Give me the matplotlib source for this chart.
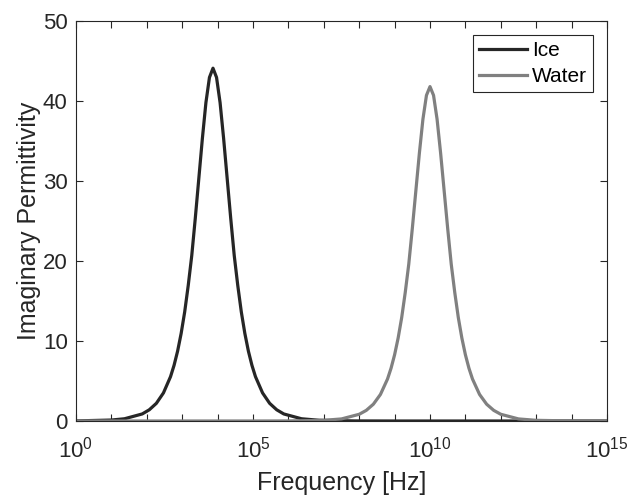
import matplotlib
matplotlib.use("Agg")
import matplotlib.pyplot as plt
import numpy as np
from matplotlib.ticker import FixedLocator, FuncFormatter

plt.rcParams["font.family"] = ["Liberation Sans", "DejaVu Sans"]
plt.rcParams["mathtext.fontset"] = "custom"
plt.rcParams["mathtext.rm"] = "Liberation Sans"

# log10 of frequency [Hz] and imaginary permittivity
ice_logf = [0.0, 1.0, 1.37, 1.87, 2.07, 2.27, 2.47, 2.67, 2.77, 2.87, 2.97,
            3.07, 3.17, 3.27, 3.37, 3.47, 3.57, 3.67, 3.77, 3.87,
            3.97, 4.07, 4.17, 4.27, 4.37, 4.47, 4.57, 4.67, 4.77, 4.87,
            4.97, 5.07, 5.27, 5.47, 5.67, 5.87, 6.37, 6.87, 7.87, 9.0, 15.0]
ice_eps = [0.012, 0.12, 0.28, 0.88, 1.40, 2.21, 3.51, 5.54, 6.96, 8.73, 10.94,
           13.63, 16.93, 20.68, 25.36, 30.34, 35.32, 39.80, 42.95, 44.1,
           42.95, 39.80, 35.32, 30.34, 25.36, 20.68, 16.93, 13.63, 10.94, 8.73,
           6.96, 5.54, 3.51, 2.21, 1.40, 0.88, 0.28, 0.09, 0.01, 0.0, 0.0]

water_logf = [0.0, 5.0, 6.0, 7.0, 7.5, 8.0, 8.2, 8.4, 8.6, 8.8, 8.9,
              9.0, 9.1, 9.2, 9.3, 9.4, 9.5, 9.6, 9.7, 9.8, 9.9, 10.0,
              10.1, 10.2, 10.3, 10.4, 10.5, 10.6, 10.7, 10.8, 10.9, 11.0,
              11.1, 11.2, 11.4, 11.6, 11.8, 12.0, 12.5, 13.0, 14.0, 15.0]
water_eps = [0.0, 0.0008, 0.008, 0.084, 0.26, 0.84, 1.33, 2.10, 3.32, 5.25, 6.60,
             8.28, 10.37, 12.92, 16.05, 19.60, 24.04, 28.76, 33.48, 37.72, 40.71, 41.8,
             40.71, 37.72, 33.48, 28.76, 24.04, 19.60, 16.05, 12.92, 10.37, 8.28,
             6.60, 5.25, 3.32, 2.10, 1.33, 0.84, 0.26, 0.084, 0.008, 0.0]

ice_f = 10.0 ** np.array(ice_logf)
water_f = 10.0 ** np.array(water_logf)

fig = plt.figure(figsize=(6.32, 4.97), dpi=100)
ax = fig.add_axes([76 / 632, 1 - 421 / 497, 531 / 632, 400 / 497])

ax.semilogx(ice_f, ice_eps, color="#262626", lw=2.3, label="Ice")
ax.semilogx(water_f, water_eps, color="#808080", lw=2.3, label="Water")

ax.set_xlim(1, 1e15)
ax.set_ylim(0, 50)
ax.xaxis.set_major_locator(FixedLocator([10.0 ** k for k in range(16)]))
ax.xaxis.set_minor_locator(FixedLocator([]))
ax.xaxis.set_major_formatter(FuncFormatter(
    lambda v, p: r"$\mathregular{10^{%d}}$" % round(np.log10(v)) if round(np.log10(v)) % 5 == 0 else ""))
ax.set_yticks([0, 10, 20, 30, 40, 50])

ax.tick_params(direction="in", top=True, right=True, length=5, width=0.8,
               labelsize=16, colors="#262626")
ax.tick_params(axis="x", pad=11)
ax.tick_params(axis="y", pad=6)
for s in ax.spines.values():
    s.set_color("#262626")
    s.set_linewidth(0.8)

ax.set_xlabel("Frequency [Hz]", fontsize=18, color="#262626", labelpad=6)
ax.set_ylabel("Imaginary Permittivity", fontsize=18, color="#262626", labelpad=1)

leg = ax.legend(loc="upper right", fontsize=15, handlelength=2.3, handletextpad=0.25,
                borderpad=0.3, labelspacing=0.35, fancybox=False, framealpha=1,
                edgecolor="#262626", borderaxespad=0.65)
leg.get_frame().set_linewidth(0.8)

fig.savefig("out.png", dpi=100)
